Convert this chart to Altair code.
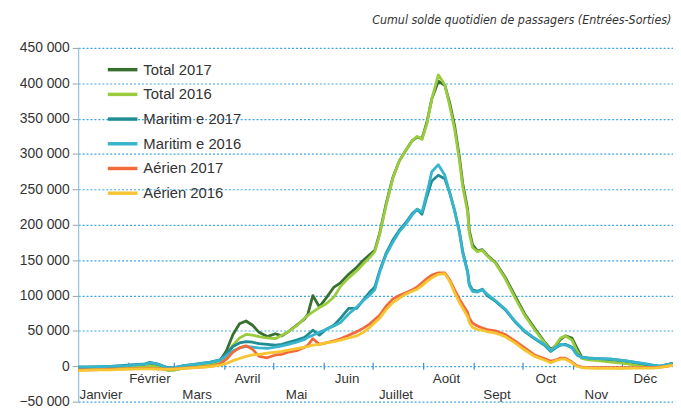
import altair as alt
import pandas as pd

# ---- data (day of year, values in thousands of passengers) ----
days = [0, 10, 20, 30, 41, 44, 49, 55, 59, 65, 73, 81, 87, 91, 95, 99, 103, 107, 111, 116,
        121, 125, 129, 134, 139, 141, 144, 148, 152, 157, 161, 166, 171, 175, 179, 182, 185, 189, 193, 197,
        201, 205, 208, 211, 214, 217, 221, 225, 228, 231, 234, 236, 239, 240, 242, 245, 248, 251, 256, 262,
        268, 274, 280, 286, 290, 293, 296, 299, 303, 306, 309, 313, 319, 327, 335, 341, 347, 353, 357, 361, 365]

total_2017 = [-4, -3, -2, -1, 1, 2, 0, -5, -5, -2, 1, 4, 8, 22, 45, 60, 64, 58, 48, 42,
              46, 43, 49, 58, 67, 74, 100, 84, 96, 112, 118, 130, 140, 150, 158, 164, 188, 230, 266, 290,
              305, 319, 324, 322, 345, 378, 403, 397, 372, 340, 295, 258, 222, 192, 172, 163, 165, 157, 147, 126,
              100, 74, 54, 35, 24, 29, 38, 43, 40, 26, 13, 10, 9, 7, 5, 3, 1, -1, 0, 2, 4]
total_2016 = [-5, -4, -3, -2, 0, 1, -1, -6, -5.5, -2.5, 0.5, 3, 6, 16, 30, 40, 45, 44, 42, 40,
              39, 44, 49, 57, 68, 72, 77, 83, 88, 98, 113, 125, 135, 145, 154, 162, 186, 228, 265, 290,
              305, 319, 325, 321, 343, 378, 412, 398, 368, 335, 290, 253, 218, 188, 168, 162, 164, 156, 146, 124,
              97, 72, 52, 34, 22, 30, 40, 43, 37, 22, 11, 9, 8, 6, 4, 2, 0, -1, -0.5, 2, 3]
maritime_2017 = [-1, -1, 0, 1.5, 3.5, 5.5, 3, -2, -2, 1, 3.5, 6, 9, 18, 28, 33, 35, 34, 32, 31,
                 30, 31, 34, 37, 41, 45, 51, 44, 52, 58, 68, 82, 82, 94, 105, 112, 135, 160, 178, 192,
                 203, 216, 222, 215, 240, 262, 270, 265, 245, 220, 190, 162, 134, 116, 108, 106, 109, 100, 92, 80,
                 63, 49, 39, 30, 21, 26, 30, 31, 27, 17, 13, 12, 11, 10, 8, 6, 3.5, 1, 0, 2, 4]
maritime_2016 = [-2, -1, 0, 1, 3, 5, 3, -2.5, -2, 1, 3, 5.5, 8.5, 15, 22, 26, 28, 27, 26, 25.5,
                 27, 29, 31, 34, 38, 41, 44, 48, 52, 57, 62, 74, 84, 93, 101, 108, 133, 158, 175, 190,
                 201, 214, 222, 218, 245, 275, 285, 270, 245, 220, 188, 160, 132, 114, 106, 105, 108, 102, 93, 81,
                 64, 50, 40, 31, 22, 27, 31, 30, 26, 16, 12.5, 11.5, 11, 10, 8, 6, 4, 1.5, 0.5, 2, 4]
aerien_2017 = [-5, -5, -4, -3.5, -3, -3, -3.5, -4, -3.5, -2.5, -1.5, 0, 3, 10, 20, 26, 29, 24, 14, 12,
               16, 17, 20, 22, 27, 30, 39, 31, 33, 36, 39, 44, 49, 54, 60, 66, 72, 85, 95, 100,
               104, 108, 112, 118, 124, 129, 132, 132, 122, 108, 95, 87, 76, 68, 61, 57, 54, 52, 50, 45,
               36, 26, 16, 11, 7, 9, 11.5, 11.5, 6, 1, -1, -2, -2, -2, -2, -2, -2, -2, -1, 0, 2]
aerien_2016 = [-6, -5, -5, -4, -3.5, -3.5, -4, -4.5, -4, -3, -2, -0.5, 1.5, 4, 8, 11, 14, 16, 17, 18.5,
               20, 21, 23, 25, 27, 28, 30, 31, 33, 35, 37, 40, 43, 48, 55, 62, 68, 80, 90, 96,
               102, 106, 109, 114, 120, 125, 130, 131, 120, 104, 90, 82, 70, 62, 55, 52, 51, 49, 47, 42,
               33, 23, 14, 9, 5, 8, 10, 10, 5, 0, -2, -2.5, -3, -3, -3, -2.5, -2.5, -2.5, -1.5, 0, 1.5]

series_names = ["Total 2017", "Total 2016", "Maritim e 2017", "Maritim e 2016", "Aérien 2017", "Aérien 2016"]
series_values = [total_2017, total_2016, maritime_2017, maritime_2016, aerien_2017, aerien_2016]
series_colors = ["#366f2e", "#9bcc3f", "#1f8d92", "#38b5cd", "#f26a3b", "#f6c531"]

month_names = ["Janvier", "Février", "Mars", "Avril", "Mai", "Juin",
               "Juillet", "Août", "Sept", "Oct", "Nov", "Déc"]
month_mid_days = [14, 44, 73, 104, 134, 165, 195, 226, 257, 287, 318, 348]
month_rows = [2, 1, 2, 1, 2, 1, 2, 1, 2, 1, 2, 1]
month_start_days = [31, 59, 90, 120, 151, 181, 212, 243, 273, 304, 334]

# ---- tables ----
rows = []
for name, vals in zip(series_names, series_values):
    for d, v in zip(days, vals):
        rows.append({"series": name, "day": d, "value": v * 1000})
df = pd.DataFrame(rows)

df_months = pd.DataFrame({"month": month_names, "day": month_mid_days, "row": month_rows})
df_ticks = pd.DataFrame({"day": month_start_days})

x_scale = alt.Scale(domain=[0, 365], nice=False, zero=False)
y_scale = alt.Scale(domain=[-50000, 450000], nice=False, zero=False)
grid_blue = "#3aa6e2"

y_axis = alt.Axis(
    values=list(range(-50000, 450001, 50000)),
    labelExpr="replace(format(datum.value, ','), regexp(',', 'g'), ' ')",
    grid=True, gridColor=grid_blue, gridDash=[2, 2], gridWidth=1.2,
    domainColor="#8fc4e4", domainWidth=1.2,
    tickColor="#a0a0a0", tickSize=6,
    labelFont="Liberation Sans", labelFontSize=14, labelColor="#333333", labelPadding=3,
    title=None,
)

color_scale = alt.Scale(domain=series_names, range=series_colors)
legend = alt.Legend(
    orient="none", legendX=28, legendY=5, title=None,
    symbolType="stroke", symbolSize=900, symbolStrokeWidth=3.5,
    labelFont="Liberation Sans", labelFontSize=15, labelColor="#333333",
    rowPadding=-6.6, padding=0, labelOffset=4,
)

layers = []
for name in series_names:
    layers.append(
        alt.Chart(df)
        .transform_filter(alt.datum.series == name)
        .mark_line(strokeWidth=2.8, strokeJoin="round")
        .encode(
            x=alt.X("day:Q", scale=x_scale, axis=None),
            y=alt.Y("value:Q", scale=y_scale, axis=y_axis),
            color=alt.Color("series:N", scale=color_scale, legend=legend),
        )
    )

ticks = alt.Chart(df_ticks).mark_rule(color="#3a8fd0", strokeWidth=1.2).encode(
    x=alt.X("day:Q", scale=x_scale, axis=None),
    y=alt.datum(-5000, scale=y_scale, axis=y_axis),
    y2=alt.datum(5000),
)

month_text = alt.Chart(df_months).transform_calculate(
    ypos="datum.row == 1 ? -17500 : -40500"
).mark_text(font="Liberation Sans", fontSize=13.5, color="#333333", baseline="middle", align="center").encode(
    x=alt.X("day:Q", scale=x_scale, axis=None),
    y=alt.Y("ypos:Q", scale=y_scale, axis=y_axis),
    text="month:N",
)

chart = alt.layer(ticks, *layers, month_text).properties(
    width=602,
    height=358,
    padding={"left": 71, "top": 38, "right": 0, "bottom": 4},
    autosize=alt.AutoSizeParams(type="none"),
    background="white",
    title=alt.TitleParams(
        "Cumul solde quotidien de passagers (Entrées-Sorties)",
        anchor="end", font="DejaVu Sans Condensed",
        fontStyle="italic", fontWeight="normal", fontSize=12.5, color="#333333", offset=15, dx=-3,
    ),
).configure_view(stroke=None)

chart.save("out.html", embed_options={"renderer": "svg", "actions": False})
